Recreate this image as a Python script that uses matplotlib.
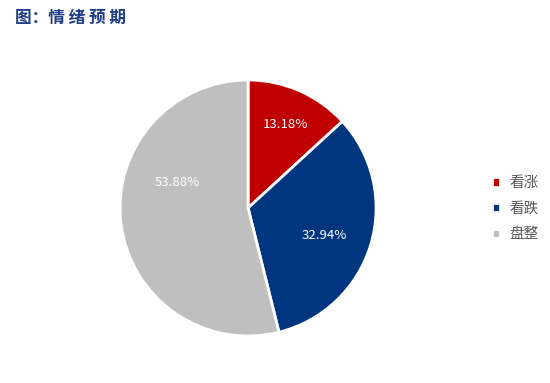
import numpy as np
import matplotlib.pyplot as plt

plt.rcParams['font.family'] = ['Noto Sans CJK SC', 'DejaVu Sans']

# data
labels = ["看涨", "看跌", "盘整"]
shares = [13.18, 32.94, 53.88]
colors = ["#C00000", "#003580", "#BFBFBF"]
title = "图：情 绪 预 期"

# label placement (angle in degrees, radius fraction), like the original
label_pos = [(66, 0.71), (-20, 0.63), (160, 0.59)]

fig = plt.figure(figsize=(5.5, 3.83), dpi=100)
ax = fig.add_axes([0.451 - 0.2327, 0.457 - 0.3342, 0.4655, 0.6684])

wedges, _ = ax.pie(shares, colors=colors, startangle=90, counterclock=False,
                   wedgeprops=dict(edgecolor="white", linewidth=2))
ax.set_aspect("equal")
ax.set_xlim(-1, 1)
ax.set_ylim(-1, 1)

for val, (ang, r) in zip(shares, label_pos):
    a = np.deg2rad(ang)
    ax.text(r * np.cos(a), r * np.sin(a), "{:.2f}%".format(val),
            ha="center", va="center", color="white", fontsize=9.5)

fig.text(0.027, 0.953, title, ha="left", va="center", fontsize=12,
         fontweight="bold", color="#1F3C88")

leg = fig.legend(wedges, labels, loc="center left",
                 bbox_to_anchor=(0.87, 0.455), frameon=False,
                 handlelength=0.6, handleheight=0.6, handletextpad=0.6,
                 labelspacing=0.8, fontsize=10.5, labelcolor="#595959")

fig.savefig("out.png", dpi=100)
